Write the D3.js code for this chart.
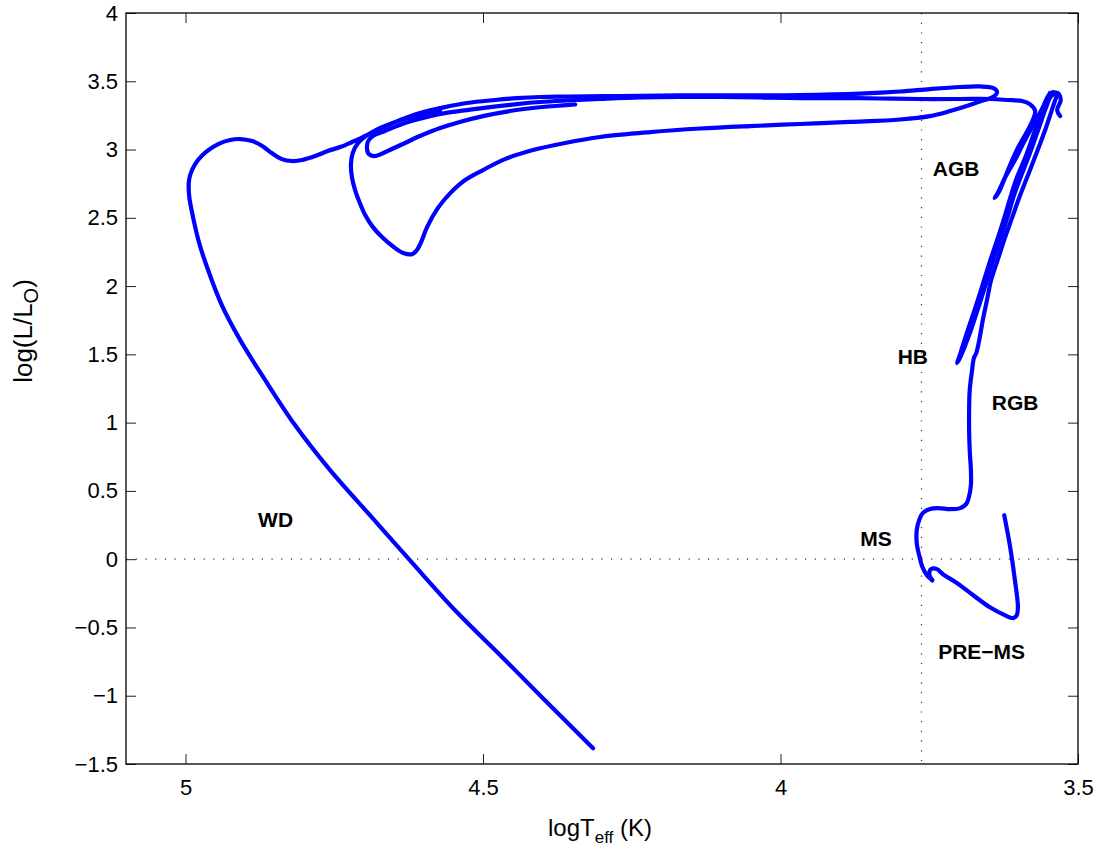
<!DOCTYPE html>
<html>
<head>
<meta charset="utf-8">
<script src="https://cdn.jsdelivr.net/npm/d3@7"></script>
<style>
  body { margin: 0; background: #fff; }
  svg text { font-family: "Liberation Sans", Arial, sans-serif; }
  .tick text { font-size: 22px; fill: #000; }
  .tick line { stroke: #222; }
  .stage { font-size: 21px; font-weight: bold; fill: #000; }
</style>
</head>
<body>
<svg width="1101" height="850"></svg>
<script>
// evolutionary track, [logTeff, log L/Lsun]
const preMainSequence = [
  [3.624,0.322],[3.614,0.088],[3.606,-0.154],[3.601,-0.352],[3.603,-0.410],[3.609,-0.432],
  [3.623,-0.410],[3.648,-0.352],[3.676,-0.264],[3.703,-0.176],[3.727,-0.110],[3.737,-0.073],
  [3.747,-0.073],[3.750,-0.110],[3.745,-0.154]
]
const mainSequenceRGB = [
  [3.745,-0.154],[3.754,-0.117],[3.762,-0.051],[3.767,0.029],[3.771,0.117],[3.771,0.213],
  [3.767,0.286],[3.761,0.337],[3.750,0.366],[3.735,0.374],[3.715,0.366],[3.698,0.374],
  [3.688,0.403],[3.683,0.462],[3.680,0.542],[3.680,0.652],[3.682,0.799],[3.683,0.945],
  [3.683,1.092],[3.682,1.238],[3.678,1.385],[3.675,1.473],[3.671,1.509],[3.666,1.604],
  [3.660,1.751],[3.653,1.897],[3.646,2.044],[3.634,2.205],[3.623,2.352],[3.611,2.498],
  [3.599,2.645],[3.584,2.813],[3.569,2.982],[3.554,3.158],[3.544,3.289],[3.537,3.377],
  [3.534,3.407]
]
const horizontalBranch = [
  [3.534,3.407],[3.542,3.421],[3.550,3.392],[3.559,3.304],[3.572,3.143],[3.587,2.960],
  [3.603,2.791],[3.613,2.659],[3.624,2.498],[3.636,2.337],[3.650,2.154],[3.663,1.971],
  [3.675,1.810],[3.688,1.641],[3.697,1.517],[3.703,1.436],[3.697,1.487],[3.683,1.641],
  [3.670,1.810],[3.658,1.971],[3.645,2.154],[3.631,2.337],[3.619,2.498],[3.608,2.659],
  [3.597,2.791],[3.582,2.960],[3.567,3.143],[3.554,3.304],[3.545,3.392],[3.534,3.414],
  [3.529,3.363],[3.535,3.289],[3.530,3.245]
]
const postAGB = [
  [3.547,3.414],[3.557,3.326],[3.572,3.202],[3.589,3.070],[3.606,2.923],[3.623,2.791],
  [3.634,2.689],[3.640,2.645],[3.633,2.689],[3.619,2.835],[3.603,2.996],[3.586,3.128],
  [3.576,3.216],[3.572,3.282],[3.581,3.333],[3.594,3.355],[3.619,3.363],[3.648,3.370],
  [3.698,3.370],[3.766,3.370],[3.833,3.374],[3.900,3.377],[3.967,3.377],[4.034,3.381],
  [4.102,3.385],[4.169,3.385],[4.236,3.381],[4.303,3.370],[4.359,3.359],[4.404,3.348],
  [4.443,3.333],[4.488,3.311],[4.527,3.289],[4.564,3.267],[4.589,3.245],[4.614,3.216],
  [4.640,3.180],[4.665,3.136],[4.685,3.099],[4.693,3.062],[4.695,3.011],[4.692,2.967],
  [4.683,2.952],[4.671,2.967],[4.653,3.004],[4.631,3.048],[4.606,3.099],[4.572,3.158],
  [4.539,3.202],[4.500,3.245],[4.455,3.282],[4.416,3.304],[4.379,3.319],[4.345,3.330]
]
const whiteDwarfLoop = [
  [4.315,-1.385],[4.396,-1.033],[4.471,-0.703],[4.547,-0.374],[4.623,-0.007],[4.690,0.322],
  [4.757,0.652],[4.816,0.982],[4.866,1.311],[4.908,1.604],[4.939,1.861],[4.959,2.081],
  [4.976,2.300],[4.987,2.498],[4.994,2.667],[4.994,2.777],[4.989,2.850],[4.979,2.923],
  [4.966,2.982],[4.945,3.040],[4.925,3.070],[4.908,3.077],[4.888,3.062],[4.871,3.026],
  [4.855,2.974],[4.838,2.930],[4.821,2.916],[4.804,2.923],[4.782,2.952],[4.761,2.989],
  [4.740,3.018],[4.720,3.055],[4.698,3.099],[4.673,3.150],[4.643,3.209],[4.606,3.267],
  [4.564,3.311],[4.527,3.341],[4.480,3.363],[4.443,3.377],[4.404,3.385],[4.359,3.388],
  [4.270,3.392],[4.169,3.396],[4.068,3.396],[3.967,3.399],[3.866,3.410],[3.799,3.425],
  [3.749,3.443],[3.698,3.458],[3.665,3.462],[3.643,3.451],[3.636,3.421],[3.643,3.385],
  [3.665,3.352],[3.687,3.319],[3.715,3.282],[3.749,3.245],[3.799,3.220],[3.883,3.202],
  [3.967,3.187],[4.051,3.172],[4.135,3.154],[4.219,3.128],[4.303,3.092],[4.362,3.048],
  [4.416,2.996],[4.463,2.930],[4.500,2.850],[4.530,2.777],[4.555,2.681],[4.576,2.571],
  [4.594,2.432],[4.604,2.322],[4.611,2.264],[4.619,2.234],[4.634,2.242],[4.650,2.286],
  [4.668,2.352],[4.685,2.432],[4.698,2.520],[4.707,2.608],[4.715,2.703],[4.720,2.791],
  [4.722,2.886],[4.719,2.974],[4.710,3.048],[4.697,3.099],[4.680,3.143],[4.656,3.187],
  [4.631,3.223],[4.606,3.253],[4.572,3.282]
]

const xTicks = [5, 4.5, 4, 3.5]
const yTicks = [4, 3.5, 3, 2.5, 2, 1.5, 1, 0.5, 0, -0.5, -1, -1.5]
const sunTeff = 3.763
const stageNames = ["AGB", "HB", "RGB", "MS", "PRE\u2212MS", "WD"]
const stageT = [3.744, 3.803, 3.645, 3.866, 3.735, 4.878]
const stageL = [2.806, 1.429, 1.092, 0.095, -0.733, 0.234]

const svg = d3.select("svg")
const plotLeft = 126, plotRight = 1078, plotTop = 13, plotBottom = 764

const x = d3.scaleLinear().domain([5.1, 3.5]).range([plotLeft, plotRight])
const y = d3.scaleLinear().domain([-1.5, 4]).range([plotBottom, plotTop])

// reference lines (sun)
svg.append("line")
  .attr("x1", x(sunTeff)).attr("x2", x(sunTeff))
  .attr("y1", plotTop).attr("y2", plotBottom)
  .attr("stroke", "#333").attr("stroke-width", 1.2)
  .attr("stroke-dasharray", "1.2,8.5")
svg.append("line")
  .attr("x1", plotLeft).attr("x2", plotRight)
  .attr("y1", y(0)).attr("y2", y(0))
  .attr("stroke", "#333").attr("stroke-width", 1.2)
  .attr("stroke-dasharray", "1.2,8.5")

const line = d3.line()
  .x(d => x(d[0]))
  .y(d => y(d[1]))
  .curve(d3.curveCatmullRom.alpha(0.5))

svg.selectAll("path.track")
  .data([preMainSequence, mainSequenceRGB, horizontalBranch, postAGB, whiteDwarfLoop])
  .enter()
  .append("path")
  .attr("class", "track")
  .attr("d", line)
  .attr("fill", "none")
  .attr("stroke", "#0000ff")
  .attr("stroke-width", 4.2)
  .attr("stroke-linejoin", "round")
  .attr("stroke-linecap", "round")

// axes, ticks pointing inwards on all four sides
const fmt = d3.format("")
svg.append("g")
  .attr("transform", "translate(0," + plotBottom + ")")
  .call(d3.axisBottom(x).tickValues(xTicks).tickFormat(fmt).tickSizeInner(-10).tickSizeOuter(0).tickPadding(15))
svg.append("g")
  .attr("transform", "translate(0," + plotTop + ")")
  .call(d3.axisTop(x).tickValues(xTicks).tickFormat("").tickSizeInner(-10).tickSizeOuter(0))
svg.append("g")
  .attr("transform", "translate(" + plotLeft + ",0)")
  .call(d3.axisLeft(y).tickValues(yTicks).tickFormat(fmt).tickSizeInner(-10).tickSizeOuter(0).tickPadding(8))
svg.append("g")
  .attr("transform", "translate(" + plotRight + ",0)")
  .call(d3.axisRight(y).tickValues(yTicks).tickFormat("").tickSizeInner(-10).tickSizeOuter(0))

svg.selectAll(".domain").remove()
svg.selectAll(".tick").select("text").attr("font-family", null).attr("font-size", null)

svg.append("rect")
  .attr("x", plotLeft).attr("y", plotTop)
  .attr("width", plotRight - plotLeft).attr("height", plotBottom - plotTop)
  .attr("fill", "none").attr("stroke", "#000").attr("stroke-width", 1.3)

// stage labels
svg.selectAll("text.stage")
  .data(stageNames)
  .enter()
  .append("text")
  .attr("class", "stage")
  .attr("x", (d, i) => x(stageT[i]))
  .attr("y", (d, i) => y(stageL[i]))
  .text(d => d)

// axis titles
const xl = svg.append("text")
  .attr("x", 600).attr("y", 836)
  .attr("text-anchor", "middle")
  .attr("font-size", 24)
xl.append("tspan").text("logT")
xl.append("tspan").attr("dy", 7).attr("font-size", 17).text("eff")
xl.append("tspan").attr("dy", -7).text(" (K)")

const yl = svg.append("text")
  .attr("transform", "translate(32,331) rotate(-90)")
  .attr("text-anchor", "middle")
  .attr("font-size", 26)
yl.append("tspan").text("log(L/L")
yl.append("tspan").attr("dy", 6).attr("font-size", 20).text("O")
yl.append("tspan").attr("dy", -6).text(")")
</script>
</body>
</html>
